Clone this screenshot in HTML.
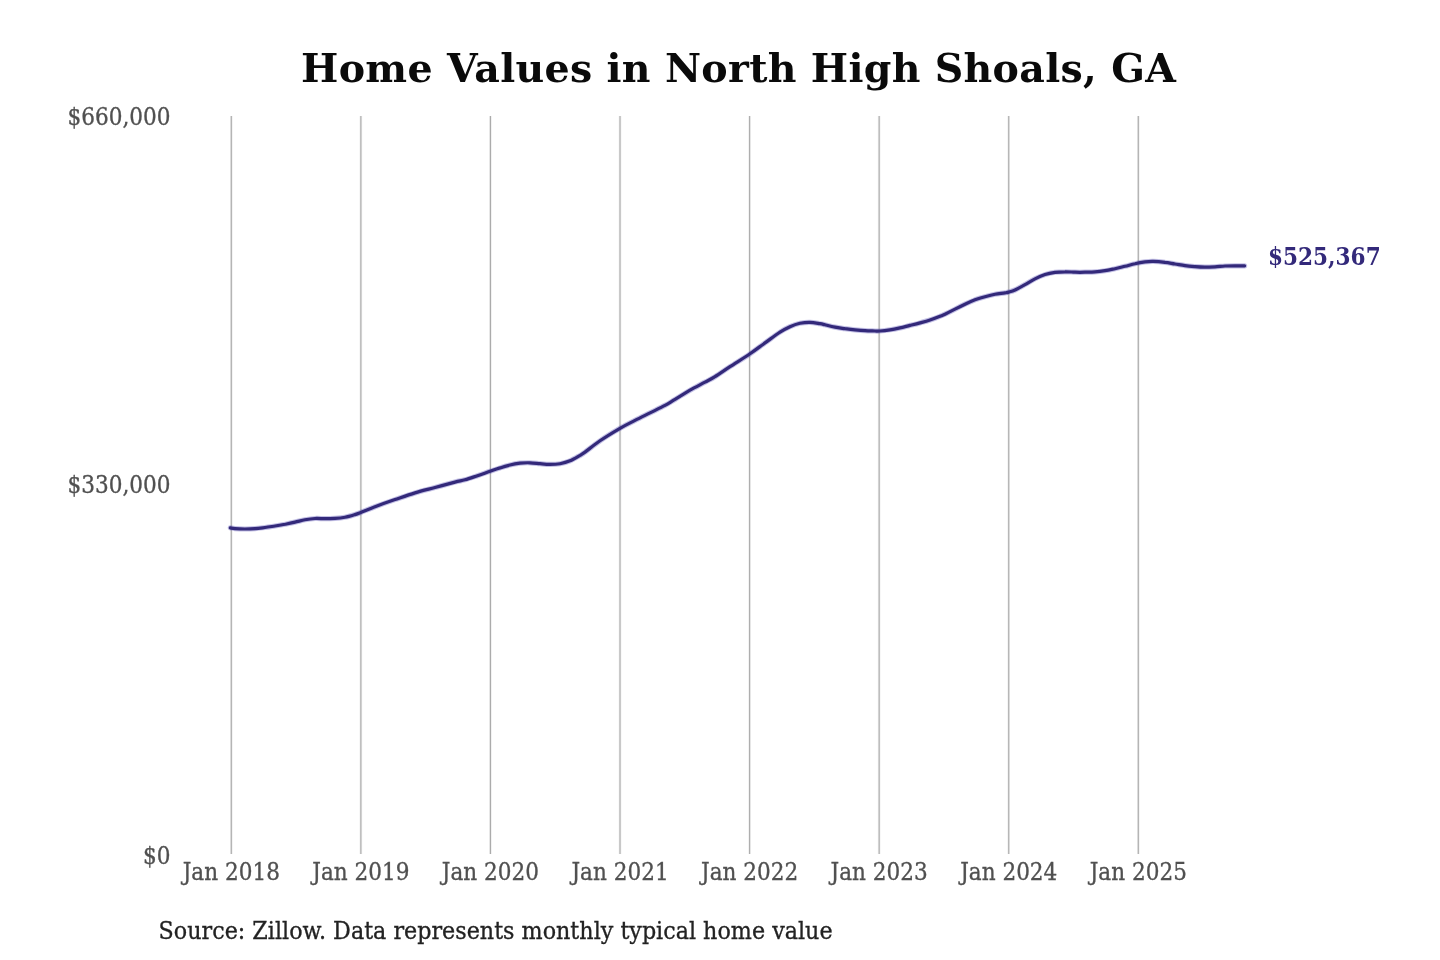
<!DOCTYPE html>
<html lang="en">
<head>
<meta charset="utf-8">
<title>Home Values in North High Shoals, GA</title>
<style>
html,body{margin:0;padding:0;background:#fff;}
body{width:1440px;height:960px;overflow:hidden;}
svg{display:block;font-family:"DejaVu Serif","Liberation Serif",serif;}
.title{font-weight:bold;font-size:39.5px;fill:#0a0a0a;text-anchor:middle;letter-spacing:0.31px;}
.grid line{stroke:#ababab;stroke-width:1.1;}
.gridh line{stroke:#ababab;stroke-width:2.6;stroke-opacity:0.22;}
.lnh{fill:none;stroke:#4a3fb0;stroke-width:5.2;stroke-opacity:0.33;stroke-linecap:round;stroke-linejoin:round;}
.xl text{font-size:21.6px;fill:#505050;text-anchor:middle;stroke:#505050;stroke-width:0.3;}
.yl text{font-size:21.6px;fill:#505050;text-anchor:end;stroke:#505050;stroke-width:0.3;}
.val{font-weight:bold;font-size:21.6px;fill:#33297a;}
.src{font-size:22.25px;fill:#222222;stroke:#222222;stroke-width:0.3;}
.ln{fill:none;stroke:#33297a;stroke-width:3.2;stroke-linecap:round;stroke-linejoin:round;}
</style>
</head>
<body>
<svg width="1440" height="960" viewBox="0 0 1440 960">
<rect width="1440" height="960" fill="#ffffff"/>
<text class="title" x="738.6" y="81.6">Home Values in North High Shoals, GA</text>
<g class="gridh"><line x1="231.30" x2="231.30" y1="116.0" y2="854.0"/><line x1="360.87" x2="360.87" y1="116.0" y2="854.0"/><line x1="490.44" x2="490.44" y1="116.0" y2="854.0"/><line x1="620.01" x2="620.01" y1="116.0" y2="854.0"/><line x1="749.59" x2="749.59" y1="116.0" y2="854.0"/><line x1="879.16" x2="879.16" y1="116.0" y2="854.0"/><line x1="1008.73" x2="1008.73" y1="116.0" y2="854.0"/><line x1="1138.30" x2="1138.30" y1="116.0" y2="854.0"/></g>
<g class="grid"><line x1="231.30" x2="231.30" y1="116.0" y2="854.0"/><line x1="360.87" x2="360.87" y1="116.0" y2="854.0"/><line x1="490.44" x2="490.44" y1="116.0" y2="854.0"/><line x1="620.01" x2="620.01" y1="116.0" y2="854.0"/><line x1="749.59" x2="749.59" y1="116.0" y2="854.0"/><line x1="879.16" x2="879.16" y1="116.0" y2="854.0"/><line x1="1008.73" x2="1008.73" y1="116.0" y2="854.0"/><line x1="1138.30" x2="1138.30" y1="116.0" y2="854.0"/></g>
<g class="yl"><text transform="translate(170.5 125.0) scale(1 1.080)">$660,000</text><text transform="translate(170.5 492.7) scale(1 1.080)">$330,000</text><text transform="translate(170.5 864.4) scale(1 1.080)">$0</text></g>
<g class="xl"><text transform="translate(231.30 879.7) scale(1 1.075)">Jan 2018</text><text transform="translate(360.87 879.7) scale(1 1.075)">Jan 2019</text><text transform="translate(490.44 879.7) scale(1 1.075)">Jan 2020</text><text transform="translate(620.01 879.7) scale(1 1.075)">Jan 2021</text><text transform="translate(749.59 879.7) scale(1 1.075)">Jan 2022</text><text transform="translate(879.16 879.7) scale(1 1.075)">Jan 2023</text><text transform="translate(1008.73 879.7) scale(1 1.075)">Jan 2024</text><text transform="translate(1138.30 879.7) scale(1 1.075)">Jan 2025</text></g>
<path class="lnh" d="M230.3 527.9C231.1 528.0 232.6 528.4 235.0 528.6C237.4 528.8 241.7 529.0 245.0 529.0C248.3 529.0 251.7 528.9 255.0 528.6C258.3 528.4 261.7 527.9 265.0 527.5C268.3 527.1 271.7 526.5 275.0 526.0C278.3 525.5 281.7 524.9 285.0 524.3C288.3 523.6 291.7 522.9 295.0 522.1C298.3 521.4 301.7 520.4 305.0 519.8C308.3 519.2 311.7 518.7 315.0 518.5C318.3 518.3 321.7 518.7 325.0 518.7C328.3 518.7 331.7 518.6 335.0 518.4C338.3 518.2 341.7 517.9 345.0 517.3C348.3 516.7 352.4 515.4 355.0 514.6C357.6 513.8 357.5 513.8 360.8 512.5C364.1 511.2 369.3 508.8 375.0 506.7C380.7 504.6 388.3 501.9 395.0 499.6C401.7 497.3 408.3 494.9 415.0 492.9C421.7 490.9 428.3 489.3 435.0 487.5C441.7 485.7 450.0 483.4 455.0 482.1C460.0 480.8 461.2 480.9 465.0 479.8C468.8 478.7 473.3 477.1 477.5 475.7C481.7 474.3 486.2 472.6 490.0 471.3C493.8 470.0 496.7 468.9 500.0 467.9C503.3 466.8 506.7 465.8 510.0 465.0C513.3 464.2 516.7 463.6 520.0 463.2C523.3 462.8 526.7 462.7 530.0 462.8C533.3 462.9 536.7 463.4 540.0 463.7C543.3 464.0 546.7 464.4 550.0 464.4C553.3 464.4 556.7 464.3 560.0 463.7C563.3 463.1 566.7 462.2 570.0 460.8C573.3 459.4 577.5 456.8 580.0 455.4C582.5 453.9 581.7 454.5 585.0 452.1C588.3 449.7 594.2 444.8 600.0 440.8C605.8 436.8 614.2 431.7 620.0 428.3C625.8 424.9 630.0 423.0 635.0 420.4C640.0 417.8 645.0 415.4 650.0 412.9C655.0 410.4 660.8 407.6 665.0 405.4C669.2 403.1 670.8 401.9 675.0 399.4C679.2 396.9 685.0 393.1 690.0 390.2C695.0 387.3 700.8 384.4 705.0 382.1C709.2 379.9 710.8 379.3 715.0 376.7C719.2 374.1 724.2 370.5 730.0 366.7C735.8 362.9 744.2 357.8 750.0 353.8C755.8 349.8 760.0 346.5 765.0 342.9C770.0 339.3 775.8 334.8 780.0 332.1C784.2 329.4 786.7 328.2 790.0 326.7C793.3 325.2 796.7 324.0 800.0 323.3C803.3 322.6 806.7 322.2 810.0 322.3C813.3 322.4 817.5 323.3 820.0 323.7C822.5 324.1 822.5 324.2 825.0 324.8C827.5 325.4 831.7 326.5 835.0 327.1C838.3 327.8 841.7 328.2 845.0 328.7C848.3 329.1 851.7 329.5 855.0 329.8C858.3 330.1 861.7 330.4 865.0 330.6C868.3 330.8 872.5 330.9 875.0 331.0C877.5 331.1 877.5 331.2 880.0 331.0C882.5 330.8 886.7 330.3 890.0 329.8C893.3 329.3 896.7 328.6 900.0 327.9C903.3 327.2 906.7 326.2 910.0 325.4C913.3 324.6 916.7 323.8 920.0 322.9C923.3 322.0 926.7 321.1 930.0 320.0C933.3 318.9 937.5 317.3 940.0 316.3C942.5 315.3 942.5 315.4 945.0 314.2C947.5 313.0 951.7 310.9 955.0 309.2C958.3 307.5 961.7 305.8 965.0 304.2C968.3 302.6 971.7 301.1 975.0 299.8C978.3 298.6 981.7 297.6 985.0 296.7C988.3 295.8 991.7 294.9 995.0 294.3C998.3 293.7 1002.7 293.3 1005.0 292.9C1007.3 292.5 1007.0 292.6 1008.7 292.1C1010.4 291.6 1012.3 291.2 1015.0 290.0C1017.7 288.8 1021.7 286.5 1025.0 284.6C1028.3 282.7 1031.7 280.5 1035.0 278.8C1038.3 277.1 1041.7 275.7 1045.0 274.6C1048.3 273.5 1051.7 272.8 1055.0 272.3C1058.3 271.8 1061.7 271.8 1065.0 271.8C1068.3 271.7 1071.7 272.1 1075.0 272.2C1078.3 272.3 1081.7 272.3 1085.0 272.2C1088.3 272.1 1091.7 272.1 1095.0 271.8C1098.3 271.6 1101.7 271.2 1105.0 270.7C1108.3 270.2 1111.7 269.4 1115.0 268.7C1118.3 268.0 1121.7 267.1 1125.0 266.3C1128.3 265.5 1131.7 264.4 1135.0 263.7C1138.3 262.9 1142.0 262.2 1145.0 261.8C1148.0 261.4 1150.0 261.2 1153.3 261.3C1156.6 261.4 1161.4 261.9 1165.0 262.4C1168.6 262.8 1171.7 263.5 1175.0 264.0C1178.3 264.5 1181.7 265.2 1185.0 265.6C1188.3 266.1 1191.7 266.4 1195.0 266.7C1198.3 267.0 1201.7 267.2 1205.0 267.2C1208.3 267.2 1211.7 267.0 1215.0 266.8C1218.3 266.6 1221.7 266.2 1225.0 266.0C1228.3 265.8 1231.7 265.8 1235.0 265.8C1238.3 265.8 1243.0 265.8 1244.6 265.8"/>
<path class="ln" d="M230.3 527.9C231.1 528.0 232.6 528.4 235.0 528.6C237.4 528.8 241.7 529.0 245.0 529.0C248.3 529.0 251.7 528.9 255.0 528.6C258.3 528.4 261.7 527.9 265.0 527.5C268.3 527.1 271.7 526.5 275.0 526.0C278.3 525.5 281.7 524.9 285.0 524.3C288.3 523.6 291.7 522.9 295.0 522.1C298.3 521.4 301.7 520.4 305.0 519.8C308.3 519.2 311.7 518.7 315.0 518.5C318.3 518.3 321.7 518.7 325.0 518.7C328.3 518.7 331.7 518.6 335.0 518.4C338.3 518.2 341.7 517.9 345.0 517.3C348.3 516.7 352.4 515.4 355.0 514.6C357.6 513.8 357.5 513.8 360.8 512.5C364.1 511.2 369.3 508.8 375.0 506.7C380.7 504.6 388.3 501.9 395.0 499.6C401.7 497.3 408.3 494.9 415.0 492.9C421.7 490.9 428.3 489.3 435.0 487.5C441.7 485.7 450.0 483.4 455.0 482.1C460.0 480.8 461.2 480.9 465.0 479.8C468.8 478.7 473.3 477.1 477.5 475.7C481.7 474.3 486.2 472.6 490.0 471.3C493.8 470.0 496.7 468.9 500.0 467.9C503.3 466.8 506.7 465.8 510.0 465.0C513.3 464.2 516.7 463.6 520.0 463.2C523.3 462.8 526.7 462.7 530.0 462.8C533.3 462.9 536.7 463.4 540.0 463.7C543.3 464.0 546.7 464.4 550.0 464.4C553.3 464.4 556.7 464.3 560.0 463.7C563.3 463.1 566.7 462.2 570.0 460.8C573.3 459.4 577.5 456.8 580.0 455.4C582.5 453.9 581.7 454.5 585.0 452.1C588.3 449.7 594.2 444.8 600.0 440.8C605.8 436.8 614.2 431.7 620.0 428.3C625.8 424.9 630.0 423.0 635.0 420.4C640.0 417.8 645.0 415.4 650.0 412.9C655.0 410.4 660.8 407.6 665.0 405.4C669.2 403.1 670.8 401.9 675.0 399.4C679.2 396.9 685.0 393.1 690.0 390.2C695.0 387.3 700.8 384.4 705.0 382.1C709.2 379.9 710.8 379.3 715.0 376.7C719.2 374.1 724.2 370.5 730.0 366.7C735.8 362.9 744.2 357.8 750.0 353.8C755.8 349.8 760.0 346.5 765.0 342.9C770.0 339.3 775.8 334.8 780.0 332.1C784.2 329.4 786.7 328.2 790.0 326.7C793.3 325.2 796.7 324.0 800.0 323.3C803.3 322.6 806.7 322.2 810.0 322.3C813.3 322.4 817.5 323.3 820.0 323.7C822.5 324.1 822.5 324.2 825.0 324.8C827.5 325.4 831.7 326.5 835.0 327.1C838.3 327.8 841.7 328.2 845.0 328.7C848.3 329.1 851.7 329.5 855.0 329.8C858.3 330.1 861.7 330.4 865.0 330.6C868.3 330.8 872.5 330.9 875.0 331.0C877.5 331.1 877.5 331.2 880.0 331.0C882.5 330.8 886.7 330.3 890.0 329.8C893.3 329.3 896.7 328.6 900.0 327.9C903.3 327.2 906.7 326.2 910.0 325.4C913.3 324.6 916.7 323.8 920.0 322.9C923.3 322.0 926.7 321.1 930.0 320.0C933.3 318.9 937.5 317.3 940.0 316.3C942.5 315.3 942.5 315.4 945.0 314.2C947.5 313.0 951.7 310.9 955.0 309.2C958.3 307.5 961.7 305.8 965.0 304.2C968.3 302.6 971.7 301.1 975.0 299.8C978.3 298.6 981.7 297.6 985.0 296.7C988.3 295.8 991.7 294.9 995.0 294.3C998.3 293.7 1002.7 293.3 1005.0 292.9C1007.3 292.5 1007.0 292.6 1008.7 292.1C1010.4 291.6 1012.3 291.2 1015.0 290.0C1017.7 288.8 1021.7 286.5 1025.0 284.6C1028.3 282.7 1031.7 280.5 1035.0 278.8C1038.3 277.1 1041.7 275.7 1045.0 274.6C1048.3 273.5 1051.7 272.8 1055.0 272.3C1058.3 271.8 1061.7 271.8 1065.0 271.8C1068.3 271.7 1071.7 272.1 1075.0 272.2C1078.3 272.3 1081.7 272.3 1085.0 272.2C1088.3 272.1 1091.7 272.1 1095.0 271.8C1098.3 271.6 1101.7 271.2 1105.0 270.7C1108.3 270.2 1111.7 269.4 1115.0 268.7C1118.3 268.0 1121.7 267.1 1125.0 266.3C1128.3 265.5 1131.7 264.4 1135.0 263.7C1138.3 262.9 1142.0 262.2 1145.0 261.8C1148.0 261.4 1150.0 261.2 1153.3 261.3C1156.6 261.4 1161.4 261.9 1165.0 262.4C1168.6 262.8 1171.7 263.5 1175.0 264.0C1178.3 264.5 1181.7 265.2 1185.0 265.6C1188.3 266.1 1191.7 266.4 1195.0 266.7C1198.3 267.0 1201.7 267.2 1205.0 267.2C1208.3 267.2 1211.7 267.0 1215.0 266.8C1218.3 266.6 1221.7 266.2 1225.0 266.0C1228.3 265.8 1231.7 265.8 1235.0 265.8C1238.3 265.8 1243.0 265.8 1244.6 265.8"/>
<text class="val" transform="translate(1268 265.3) scale(1 1.08)">$525,367</text>
<text class="src" transform="translate(158.6 938.7) scale(1 1.07)">Source: Zillow. Data represents monthly typical home value</text>
</svg>
</body>
</html>
